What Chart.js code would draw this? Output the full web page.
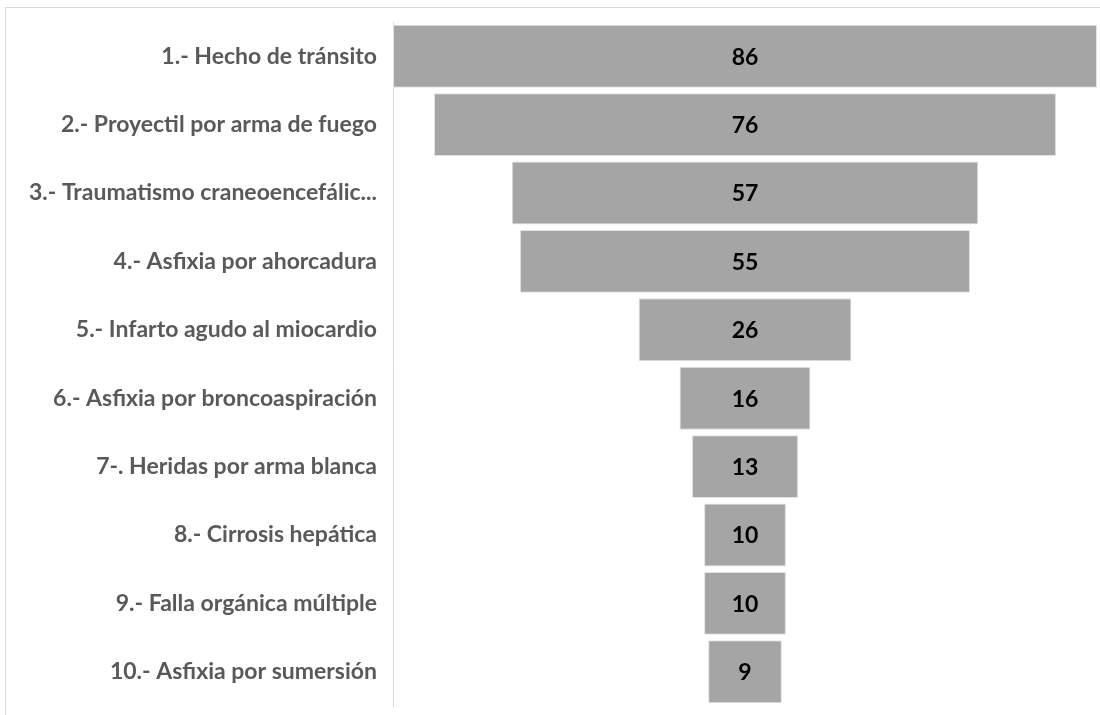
<!DOCTYPE html>
<html>
<head>
<meta charset="utf-8">
<script src="https://cdn.jsdelivr.net/npm/chart.js@4.4.0/dist/chart.umd.min.js"></script>
<style>
    html, body { margin: 0; padding: 0; background: #fff; overflow: hidden; }
    #frame { position: absolute; left: 5px; top: 7px; width: 1200px; height: 800px;
             border-top: 1px solid #d9d9d9; border-left: 1px solid #d9d9d9; }
    #funnelChart { position: absolute; left: 0; top: 0; }
</style>
</head>
<body>
<div id="frame"></div>
<canvas id="funnelChart" width="1100" height="715"></canvas>
<script>
    const categories = [
        '1.- Hecho de tránsito',
        '2.- Proyectil por arma de fuego',
        '3.- Traumatismo craneoencefálic...',
        '4.- Asfixia por ahorcadura',
        '5.- Infarto agudo al miocardio',
        '6.- Asfixia por broncoaspiración',
        '7-. Heridas por arma blanca',
        '8.- Cirrosis hepática',
        '9.- Falla orgánica múltiple',
        '10.- Asfixia por sumersión'
    ];
    const values = [86, 76, 57, 55, 26, 16, 13, 10, 10, 9];

    // funnel: each bar floats symmetric around zero
    const floating = values.map(function (v) { return [-v / 2, v / 2]; });
    const maxVal = Math.max.apply(null, values);

    const valueLabels = {
        id: 'valueLabels',
        afterDatasetsDraw: function (chart) {
            const ctx = chart.ctx;
            const meta = chart.getDatasetMeta(0);
            ctx.save();
            ctx.font = 'bold 23px Lato, "Open Sans", sans-serif';
            ctx.fillStyle = '#000000';
            ctx.textAlign = 'center';
            ctx.textBaseline = 'middle';
            meta.data.forEach(function (bar, i) {
                const cx = (bar.x + bar.base) / 2;
                ctx.fillText(String(values[i]), cx, bar.y + 1);
            });
            ctx.restore();
        }
    };

    const ctx = document.getElementById('funnelChart').getContext('2d');
    const myChart = new Chart(ctx, {
        type: 'bar',
        data: {
            labels: categories,
            datasets: [{
                data: floating,
                backgroundColor: '#a5a5a5',
                borderColor: '#e3e3e3',
                borderWidth: 1,
                borderSkipped: false,
                categoryPercentage: 1,
                barPercentage: 0.92
            }]
        },
        options: {
            indexAxis: 'y',
            responsive: false,
            maintainAspectRatio: false,
            animation: false,
            devicePixelRatio: 1,
            layout: { padding: { top: 22, bottom: 9, right: 3, left: 0 } },
            plugins: { legend: { display: false }, tooltip: { enabled: false } },
            scales: {
                x: {
                    display: false,
                    min: -maxVal / 2,
                    max: maxVal / 2
                },
                y: {
                    afterFit: function (scale) {
                        scale.width = 393;
                        scale.paddingTop = 0;
                        scale.paddingBottom = 0;
                    },
                    grid: { display: false, drawTicks: false },
                    border: { display: true, color: '#d9d9d9', width: 1 },
                    ticks: {
                        padding: 16,
                        color: '#595959',
                        font: { family: 'Lato, "Open Sans", sans-serif', size: 23, weight: 'bold' }
                    }
                }
            }
        },
        plugins: [valueLabels]
    });
</script>
</body>
</html>
